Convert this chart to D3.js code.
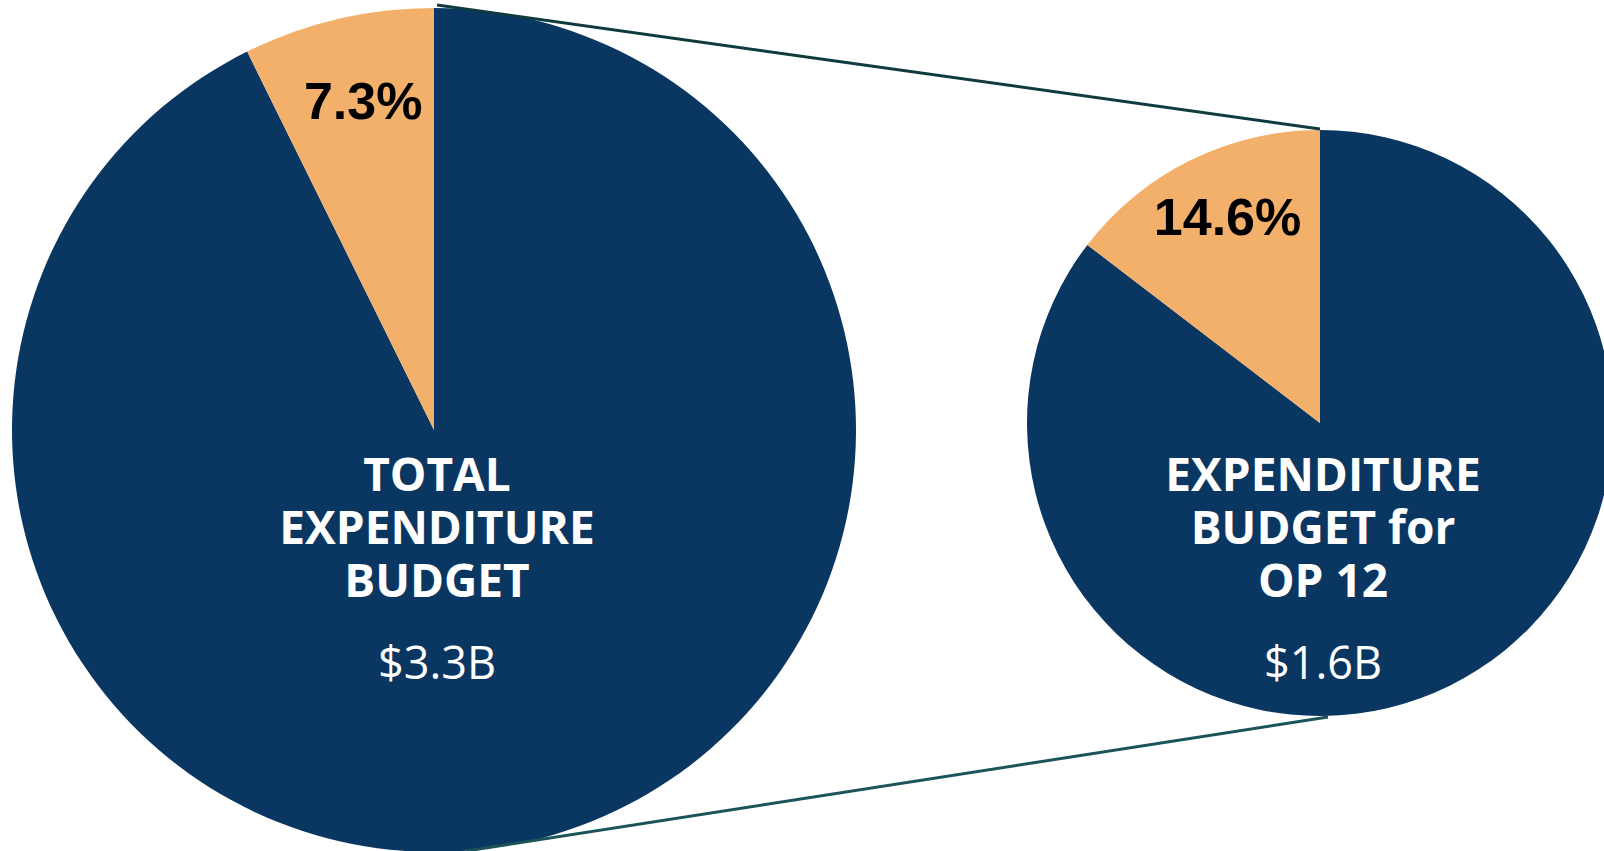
<!DOCTYPE html>
<html>
<head>
<meta charset="utf-8">
<script src="https://cdn.jsdelivr.net/npm/d3@7"></script>
<style>
  html, body { margin: 0; padding: 0; background: #fff; overflow: hidden; }
</style>
</head>
<body>
<div class="canvas"></div>
<script>
// pie data
var shares = [7.3, 14.6];            // % highlighted slice
var totals = ["$3.3B", "$1.6B"];
var titles = [
  ["TOTAL", "EXPENDITURE", "BUDGET"],
  ["EXPENDITURE", "BUDGET for", "OP 12"]
];

var width = 1604, height = 851;

// pie placement: centre and radius
var centers = [[434, 430], [1320, 423]];
var radii = [422, 293];
var labelNudge = [[5, 14], [10, 20]];

var navy = "#0a3761", orange = "#f3b06b";

var svg = d3
  .select(".canvas")
  .append("svg")
  .attr("width", width)
  .attr("height", height);

var pie = d3.pie().sort(null);

shares.forEach(function (s, i) {
  var g = svg
    .append("g")
    .attr("transform", "translate(" + centers[i][0] + "," + centers[i][1] + ")");

  var arc = d3.arc().innerRadius(0).outerRadius(radii[i]);
  var arcs = pie([100 - s, s]);

  g.selectAll("path")
    .data(arcs)
    .join("path")
    .attr("d", arc)
    .attr("fill", function (d, j) {
      return j === 1 ? orange : navy;
    });

  // percentage label inside the orange slice
  var labelArc = d3.arc().innerRadius(radii[i] * 0.79).outerRadius(radii[i] * 0.79);
  var c = labelArc.centroid(arcs[1]);
  g.append("text")
    .attr("x", c[0] + labelNudge[i][0])
    .attr("y", c[1] + labelNudge[i][1])
    .attr("text-anchor", "middle")
    .attr("font-family", "Liberation Sans, Arial, sans-serif")
    .attr("font-weight", "bold")
    .attr("font-size", 52)
    .attr("fill", "#000")
    .text(s + "%");
});

// title + amount, centred under each pie
titles.forEach(function (lines, i) {
  var cx = centers[i][0] + 3;
  lines.forEach(function (t, k) {
    svg.append("text")
      .attr("x", cx)
      .attr("y", 491 + k * 53)
      .attr("text-anchor", "middle")
      .attr("font-family", "Open Sans, sans-serif")
      .attr("font-weight", "bold")
      .attr("font-size", 46)
      .attr("fill", "#fff")
      .text(t);
  });
  svg.append("text")
    .attr("x", cx)
    .attr("y", 679)
    .attr("text-anchor", "middle")
    .attr("font-family", "Open Sans, sans-serif")
    .attr("font-size", 45)
    .attr("fill", "#fff")
    .text(totals[i]);
});

// connector lines from big pie to small pie
var connectors = [
  [[437, 5], [centers[1][0], centers[1][1] - radii[1] - 1]],
  [[466, 851], [1328, centers[1][1] + radii[1] + 1]]
];
svg.selectAll(".link")
  .data(connectors)
  .join("line")
  .attr("class", "link")
  .attr("x1", function (d) { return d[0][0]; })
  .attr("y1", function (d) { return d[0][1]; })
  .attr("x2", function (d) { return d[1][0]; })
  .attr("y2", function (d) { return d[1][1]; })
  .attr("stroke", function (d, i) { return i === 0 ? "#0f3b40" : "#1a5459"; })
  .attr("stroke-width", 3);
</script>
</body>
</html>
